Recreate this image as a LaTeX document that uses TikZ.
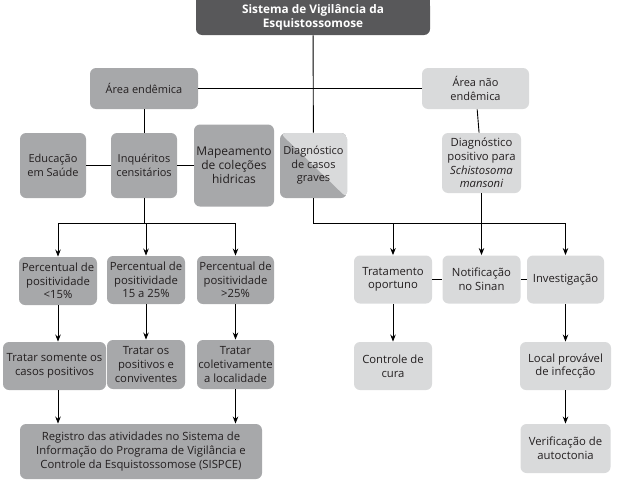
\documentclass[tikz,border=0pt]{standalone}
\usepackage{fontspec}
\setmainfont{Open Sans}
\usetikzlibrary{arrows.meta}
\definecolor{escuro}{HTML}{58585A}
\definecolor{medio}{HTML}{A7A8AA}
\definecolor{claro}{HTML}{D9DADB}
\definecolor{texto}{HTML}{231F20}

\begin{document}
\begin{tikzpicture}[x=1pt,y=-1pt,>={Stealth[length=7pt,width=5.5pt]},line width=0.9pt,
caixa/.style={rounded corners=6pt,align=center,inner sep=1pt,text=texto,font=\fontsize{11.3}{13.6}\selectfont},
media/.style={caixa,fill=medio},
clara/.style={caixa,fill=claro},
maior/.style={font=\fontsize{11}{13.5}\selectfont}]
\useasboundingbox (0,0) rectangle (619,490);
\clip (0,0) rectangle (619,490);
% topo
\fill[escuro] (196,0) rectangle (430,12);
\node[caixa,fill=escuro,text=white,font=\bfseries\fontsize{11.8}{13.5}\selectfont,minimum width=234pt,minimum height=35pt] (sistema) at (313,17.5) {Sistema de Vigilância da\\Esquistossomose};
\node[media,maior,minimum width=108pt,minimum height=41pt] (endemica) at (144,88.5) {Área endêmica};
\node[clara,maior,minimum width=107pt,minimum height=41pt] (naoendemica) at (475.5,88.5) {Área não\\endêmica};
% segunda linha
\node[media,maior,minimum width=66pt,minimum height=65pt] (educacao) at (53,165.5) {Educação\\em Saúde};
\node[media,maior,minimum width=66pt,minimum height=65pt] (inqueritos) at (144,165.5) {Inquéritos\\censitários};
\node[media,font=\fontsize{12}{14}\selectfont,minimum width=80pt,minimum height=82pt] (mapeamento) at (234,165.5) {Mapeamento\\de coleções\\hidricas};
\node[caixa,maior,minimum width=67pt,minimum height=65pt,path picture={
  \fill[medio] (path picture bounding box.south west) rectangle (path picture bounding box.north east);
  \fill[claro] (path picture bounding box.north west) -- (path picture bounding box.north east) -- (path picture bounding box.south east) -- cycle;}] (graves) at (313.5,165.5) {Diagnóstico\\de casos\\graves};
\node[clara,minimum width=79pt,minimum height=60pt] (positivo) at (481.5,163) {Diagnóstico\\positivo para\\\textit{Schistosoma}\\\textit{mansoni}};
% ramo endemico
\node[media,minimum width=78pt,minimum height=48pt] (perc1) at (58,281) {Percentual de\\positividade\\<15\%};
\node[media,minimum width=78pt,minimum height=48pt] (perc2) at (146,280) {Percentual de\\positividade\\15 a 25\%};
\node[media,minimum width=77pt,minimum height=48pt] (perc3) at (235.5,280) {Percentual de\\positividade\\>25\%};
\node[media,minimum width=103pt,minimum height=48pt] (trat1) at (54.5,366) {Tratar somente os\\casos positivos};
\node[media,minimum width=78pt,minimum height=49pt] (trat2) at (146,364.5) {Tratar os\\positivos e\\conviventes};
\node[media,minimum width=77pt,minimum height=49pt] (trat3) at (235.5,364.5) {Tratar\\coletivamente\\a localidade};
\node[media,font=\fontsize{11.3}{13.9}\selectfont,minimum width=242pt,minimum height=55pt] (registro) at (141,451.5) {Registro das atividades no Sistema de\\Informação do Programa de Vigilância e\\Controle da Esquistossomose (SISPCE)};
% ramo nao endemico
\node[clara,minimum width=78pt,minimum height=48pt] (tratamento) at (393,279.5) {Tratamento\\oportuno};
\node[clara,minimum width=78pt,minimum height=48pt] (notificacao) at (481.5,279.5) {Notificação\\no Sinan};
\node[clara,minimum width=77pt,minimum height=48pt] (investigacao) at (565.5,279.5) {Investigação};
\node[clara,minimum width=78pt,minimum height=48pt] (controle) at (393,366) {Controle de\\cura};
\node[clara,minimum width=91pt,minimum height=48pt] (local) at (565.5,366) {Local provável\\de infecção};
\node[clara,minimum width=90pt,minimum height=49pt] (verificacao) at (565.5,448.5) {Verificação de\\autoctonia};
% ligacoes
\coordinate (ramo) at (146,223);
\coordinate (ramo2) at (393,223);
\draw (sistema) -- (graves);
\draw (endemica) -- (naoendemica);
\draw (endemica) -- (inqueritos);
\draw (educacao) -- (inqueritos);
\draw (inqueritos) -- (mapeamento);
\draw (inqueritos) -- (inqueritos |- ramo) -- (ramo);
\draw[->] (ramo) -| (perc1);
\draw[->] (ramo) -- (perc2);
\draw[->] (ramo) -| (perc3);
\draw[->] (perc1) -- (perc1 |- trat1.north);
\draw[->] (perc2) -- (trat2);
\draw[->] (perc3) -- (trat3);
\draw[->] (perc1 |- trat1.south) -- (perc1 |- registro.north);
\draw[->] (trat3) -- (trat3 |- registro.north);
\draw (graves) |- (ramo2);
\draw[->] (ramo2) -- (tratamento);
\draw[->] (ramo2) -| (investigacao);
\draw (naoendemica) -- (positivo);
\draw[->] (positivo) -- (notificacao);
\draw (tratamento) -- (notificacao);
\draw (notificacao) -- (investigacao);
\draw[->] (tratamento) -- (controle);
\draw[->] (investigacao) -- (local);
\draw[->] (local) -- (verificacao);
\end{tikzpicture}
\end{document}
